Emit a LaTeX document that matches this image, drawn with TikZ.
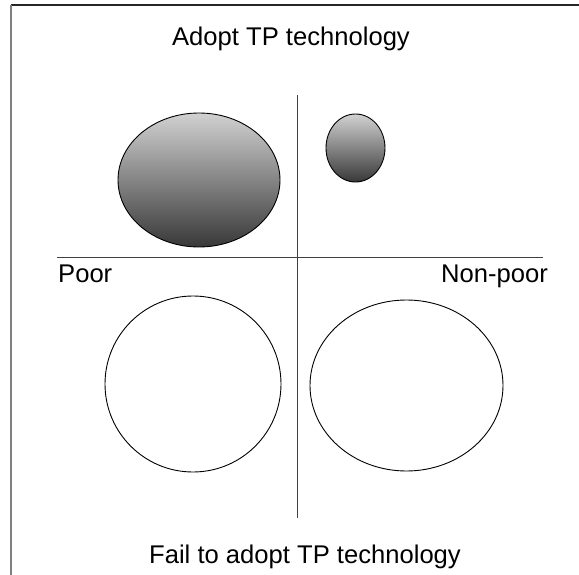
\documentclass[tikz,border=0pt]{standalone}
\usepackage{fontspec}
\setmainfont{Liberation Sans}
\usetikzlibrary{shapes.geometric}
\begin{document}
\begin{tikzpicture}[x=1pt,y=-1pt,
  lbl/.style={inner sep=0pt,font=\fontsize{25.6}{30}\selectfont},
  blob/.style={ellipse,draw=black,line width=0.9pt,inner sep=0pt},
  shaded/.style={blob,top color=black!18,bottom color=black!78},
  axis/.style={draw=black!75,line width=0.9pt}]
\useasboundingbox (0,0) rectangle (579,575);
% frame
\draw[black!85,line width=1.5pt] (11,5) -- (579,5);
\draw[black!50,line width=2pt] (11,5) -- (11,575);
% axes
\coordinate (hl) at (57,257);
\coordinate (hr) at (543,257);
\coordinate (vt) at (297,95);
\coordinate (vb) at (297,518);
\draw[axis] (hl) -- (hr);
\draw[axis] (vt) -- (vb);
% ellipses
\node[shaded,minimum width=162pt,minimum height=134pt] (pa) at (199,180) {};
\node[shaded,minimum width=59pt,minimum height=68pt] (na) at (355.5,148) {};
\node[blob,minimum width=176pt,minimum height=176pt] (pf) at (193,384) {};
\node[blob,minimum width=193pt,minimum height=171pt] (nf) at (406.5,385.5) {};
% labels
\node[lbl,anchor=base] (top) at (291,46) {Adopt TP technology};
\node[lbl,anchor=base] (bot) at (305,563) {Fail to adopt TP technology};
\node[lbl,anchor=base west] (poor) at (58,282) {Poor};
\node[lbl,anchor=base east] (nonpoor) at (548,282) {Non-poor};
\end{tikzpicture}
\end{document}
